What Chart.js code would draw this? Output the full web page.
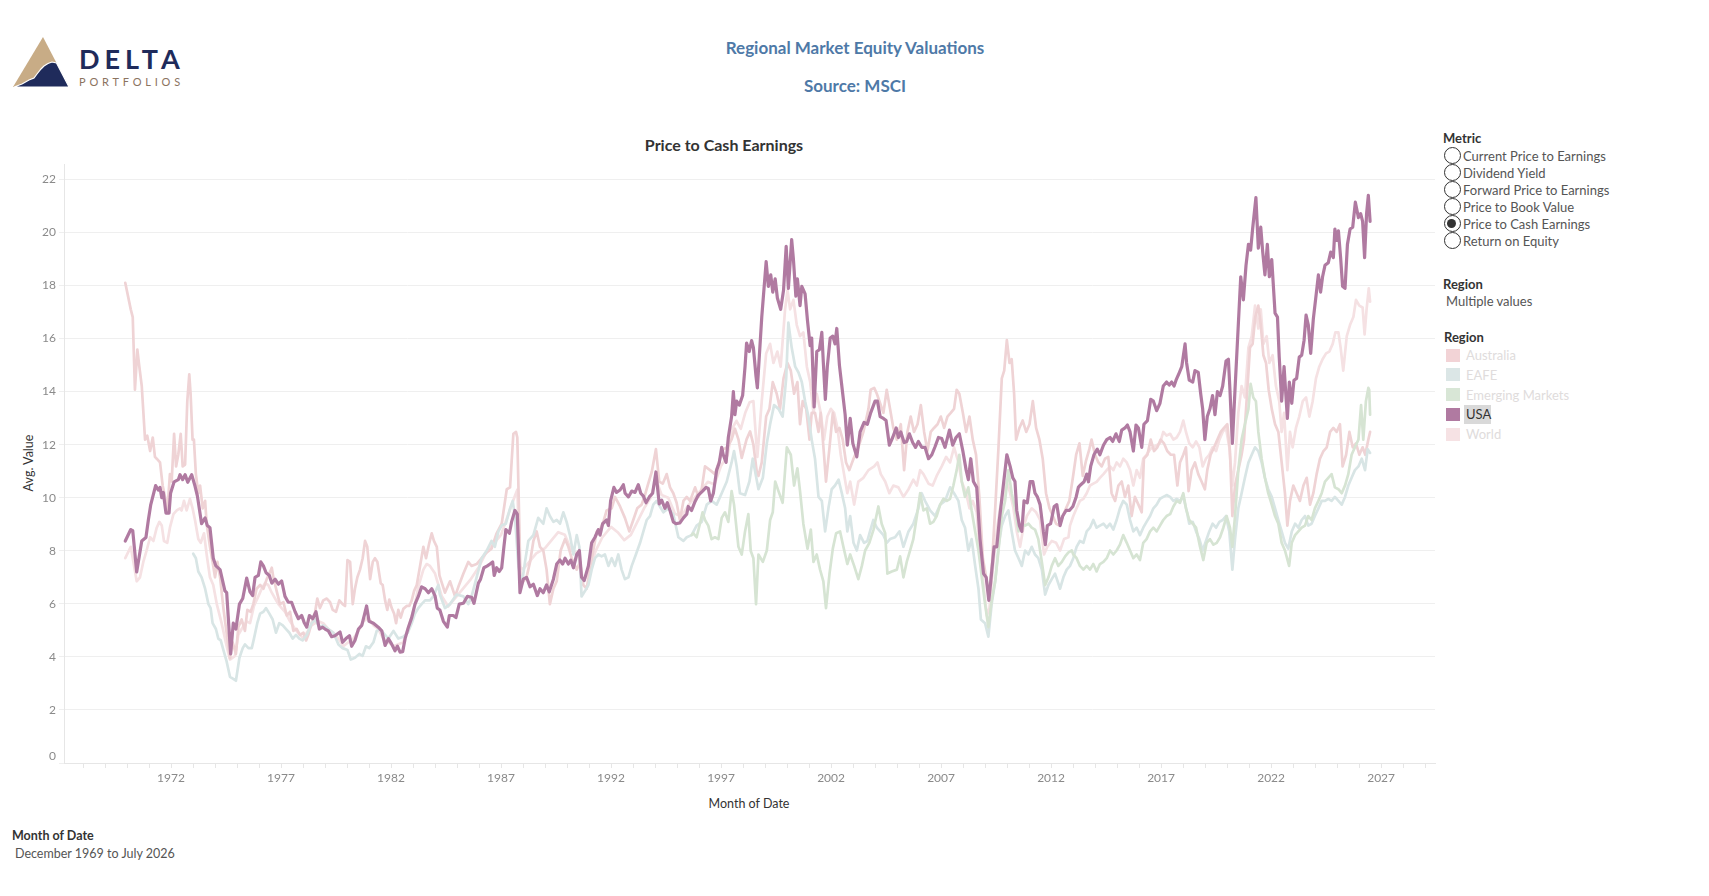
<!DOCTYPE html>
<html>
<head>
<meta charset="utf-8">
<script src="https://cdn.jsdelivr.net/npm/chart.js@4.4.1/dist/chart.umd.min.js"></script>
<style>
  html, body { margin:0; padding:0; background:#fff; }
  body { width:1709px; height:896px; position:relative; overflow:hidden; font-family: Lato, "Open Sans", sans-serif; }
  .abs { position:absolute; white-space:nowrap; }
  .c { transform: translate(-50%, -50%); }
  .lbl { transform: translateY(-50%); }
  #chart { position:absolute; left:0; top:0; }
  .radio { position:absolute; width:17px; height:17px; border:1.2px solid #333; border-radius:50%; box-sizing:border-box; background:transparent; }
  .radio.on::after { content:''; position:absolute; left:2.8px; top:2.8px; width:9px; height:9px; border-radius:50%; background:#333; }
  .sw { position:absolute; width:14px; height:13px; }
</style>
</head>
<body>
<svg class="abs" style="left:0;top:0" width="200" height="100">
  <polygon points="43,37 13,87 69,87" fill="#c8ac86"/>
  <polygon points="14,87 22,84 29,80 34,78 37,74 41,69 44,66 48,63.5 52,62 56.5,63 69,87" fill="#1f2b5b" stroke="#fff" stroke-width="1.2"/>
  <text x="79" y="69" font-family="Lato, sans-serif" font-weight="700" font-size="27" letter-spacing="5" fill="#1f2b5b">DELTA</text>
  <text x="79" y="86" font-family="Lato, sans-serif" font-weight="400" font-size="11" letter-spacing="3.8" fill="#8b735f">PORTFOLIOS</text>
</svg>

<div class="abs c" style="left:855px;top:47px;color:#4e79a7;font-weight:700;font-size:17px;">Regional Market Equity Valuations</div>
<div class="abs c" style="left:855px;top:85px;color:#4e79a7;font-weight:700;font-size:17px;">Source: MSCI</div>
<div class="abs c" style="left:724px;top:144px;color:#333;font-weight:700;font-size:16px;">Price to Cash Earnings</div>
<div class="abs c" style="left:28px;top:463px;color:#333;font-size:12.5px;transform:translate(-50%,-50%) rotate(-90deg);">Avg. Value</div>
<div class="abs c" style="left:749px;top:803px;color:#333;font-size:12.5px;">Month of Date</div>
<div class="abs lbl" style="left:12px;top:835px;color:#333;font-size:12.5px;font-weight:700;">Month of Date</div>
<div class="abs lbl" style="left:15px;top:853px;color:#555;font-size:12.5px;">December 1969 to July 2026</div>

<canvas id="chart" width="1440" height="830"></canvas>
<div id="yzero" class="abs" style="right:calc(1709px - 56px);top:755px;transform:translateY(-50%);color:#8a8a8a;font-size:12px;"></div>

<div id="legend"></div>

<script>
// ---------- data (decimal year, value) ----------
const xTickLabels = [1972, 1977, 1982, 1987, 1992, 1997, 2002, 2007, 2012, 2017, 2022, 2027];
const yTickValues = [0, 2, 4, 6, 8, 10, 12, 14, 16, 18, 20, 22];
const regions = ["Australia", "EAFE", "Emerging Markets", "USA", "World"];
const metrics = ["Current Price to Earnings", "Dividend Yield", "Forward Price to Earnings", "Price to Book Value", "Price to Cash Earnings", "Return on Equity"];

const usa = [
[1969.92,8.37],[1970.17,8.8],[1970.26,8.76],[1970.44,7.2],[1970.67,8.37],[1970.86,8.5],[1970.97,9.16],[1971.08,9.74],[1971.30,10.46],[1971.42,10.29],[1971.50,10.39],[1971.58,10.0],[1971.65,10.2],[1971.77,9.42],[1971.91,9.42],[1971.98,10.17],[1972.14,10.6],[1972.33,10.68],[1972.41,10.87],[1972.53,10.68],[1972.64,10.87],[1972.76,10.58],[1972.94,10.87],[1973.09,10.44],[1973.20,10.06],[1973.39,9.02],[1973.55,9.24],[1973.65,8.95],[1973.77,8.87],[1973.92,7.72],[1974.04,7.43],[1974.23,7.29],[1974.45,6.49],[1974.53,6.42],[1974.71,4.11],[1974.83,5.27],[1974.95,5.05],[1975.11,5.99],[1975.26,6.2],[1975.44,6.97],[1975.59,6.45],[1975.71,6.31],[1975.82,7.0],[1975.97,7.07],[1976.08,7.58],[1976.20,7.43],[1976.32,7.17],[1976.47,7.07],[1976.58,6.78],[1976.73,6.93],[1976.88,6.74],[1977.03,6.86],[1977.18,6.28],[1977.33,6.06],[1977.48,6.06],[1977.64,5.7],[1977.79,5.44],[1977.94,5.56],[1978.05,5.3],[1978.17,5.12],[1978.29,5.56],[1978.44,5.44],[1978.59,5.7],[1978.74,5.05],[1978.89,5.12],[1979.00,5.05],[1979.15,4.98],[1979.30,4.76],[1979.45,4.8],[1979.68,4.94],[1979.80,4.55],[1979.95,4.69],[1980.11,4.8],[1980.21,4.4],[1980.36,4.62],[1980.52,5.05],[1980.67,5.19],[1980.79,5.58],[1980.89,5.92],[1981.00,5.34],[1981.20,5.27],[1981.42,5.12],[1981.58,4.98],[1981.73,4.43],[1981.88,4.69],[1982.03,4.48],[1982.18,4.23],[1982.29,4.4],[1982.41,4.18],[1982.53,4.2],[1982.64,4.69],[1982.79,5.12],[1982.94,5.48],[1983.09,5.99],[1983.24,6.28],[1983.39,6.64],[1983.55,6.57],[1983.70,6.42],[1983.85,6.57],
[1984.0,6.3],[1984.10,5.84],[1984.22,5.77],[1984.38,5.34],[1984.56,5.12],[1984.65,5.56],[1984.83,5.56],[1984.95,5.48],[1985.10,5.99],[1985.29,6.02],[1985.47,6.28],[1985.66,6.25],[1985.77,6.02],[1985.97,6.78],[1986.07,6.93],[1986.22,7.36],[1986.38,7.43],[1986.50,7.5],[1986.62,7.58],[1986.69,7.07],[1986.80,7.36],[1986.92,7.22],[1987.03,7.36],[1987.13,8.15],[1987.22,8.8],[1987.38,8.66],[1987.48,9.09],[1987.63,9.52],[1987.74,9.38],[1987.86,6.42],[1988.01,6.93],[1988.16,7.0],[1988.32,6.64],[1988.47,6.74],[1988.65,6.31],[1988.77,6.57],[1988.92,6.42],[1989.07,6.71],[1989.19,6.45],[1989.38,6.93],[1989.53,7.5],[1989.68,7.65],[1989.80,7.5],[1989.91,7.72],[1990.06,7.5],[1990.17,7.65],[1990.29,7.36],[1990.44,7.86],[1990.56,8.01],[1990.66,7.0],[1990.78,6.88],[1990.97,7.43],[1991.12,8.3],[1991.27,8.51],[1991.42,8.8],[1991.50,8.59],[1991.62,9.02],[1991.80,9.16],[1991.88,8.95],[1991.98,9.88],[1992.13,10.39],[1992.25,10.2],[1992.41,10.29],[1992.56,10.49],[1992.64,10.17],[1992.79,10.03],[1992.94,10.25],[1993.09,10.2],[1993.24,10.49],[1993.35,10.17],[1993.47,10.06],[1993.59,9.81],[1993.74,10.03],[1993.89,10.17],[1994.04,10.97],[1994.19,9.77],[1994.30,9.91],[1994.45,9.6],[1994.56,9.81],[1994.68,9.52],[1994.83,9.09],[1994.95,9.02],[1995.13,9.05],[1995.29,9.24],[1995.44,9.38],[1995.51,9.67],[1995.66,9.52],[1995.82,9.86],[1995.97,10.1],[1996.16,10.25],[1996.32,10.39],[1996.42,10.35],[1996.53,9.88],[1996.65,10.17],[1996.80,11.04],[1996.92,11.33],[1997.03,11.9],[1997.10,11.62],[1997.23,11.33],[1997.33,12.27],[1997.48,13.06],[1997.56,14.0],[1997.63,13.13],[1997.71,13.64],[1997.83,13.49],[1997.98,13.85],[1998.09,14.94],[1998.16,15.83],[1998.28,15.51],[1998.39,15.92],[1998.47,15.66],[1998.59,14.57],[1998.65,14.14],
[1998.85,16.81],[1999.05,18.9],[1999.15,17.97],[1999.26,18.4],[1999.35,17.75],[1999.46,18.25],[1999.56,17.53],[1999.71,17.1],[1999.84,17.82],[1999.96,19.48],[2000.06,17.89],[2000.21,19.73],[2000.29,18.98],[2000.40,17.6],[2000.47,18.25],[2000.59,17.24],[2000.67,17.97],[2000.82,17.68],[2000.93,16.67],[2001.05,15.73],[2001.12,16.02],[2001.23,13.42],[2001.35,15.51],[2001.47,15.58],[2001.58,16.23],[2001.65,15.08],[2001.74,13.71],[2001.83,14.94],[2001.96,16.02],[2002.08,16.09],[2002.18,15.8],[2002.26,16.38],[2002.38,15.0],[2002.53,13.92],[2002.64,13.13],[2002.74,11.98],[2002.87,12.99],[2002.99,12.05],[2003.17,11.54],[2003.32,12.48],[2003.50,12.84],[2003.65,12.77],[2003.80,13.2],[2004.00,13.64],[2004.11,13.64],[2004.23,13.06],[2004.38,12.99],[2004.50,12.91],[2004.65,11.98],[2004.80,12.27],[2004.96,12.63],[2005.06,12.27],[2005.17,12.48],[2005.32,12.08],[2005.44,12.12],[2005.56,12.41],[2005.71,12.08],[2005.84,11.9],[2005.97,12.12],[2006.12,11.9],[2006.27,11.9],[2006.43,11.47],[2006.58,11.62],[2006.73,11.93],[2006.88,12.27],[2007.03,12.23],[2007.18,11.9],[2007.38,12.55],[2007.53,11.98],[2007.68,12.27],[2007.83,12.41],[2007.99,11.76],[2008.14,11.04],[2008.24,10.68],[2008.35,11.47],[2008.47,10.61],[2008.62,10.39],[2008.77,8.44],[2008.93,7.14],[2009.05,7.0],[2009.17,6.13],[2009.26,6.85],[2009.41,8.15],[2009.53,8.15],[2009.65,9.16],[2009.80,10.25],[2009.99,11.62],[2010.14,11.18],[2010.26,10.75],[2010.36,10.61],[2010.44,9.52],[2010.56,8.95],[2010.67,8.73],[2010.77,9.88],[2010.92,9.81],[2011.05,10.61],[2011.17,10.61],[2011.27,10.17],[2011.38,10.03],[2011.50,9.74],[2011.65,8.73],[2011.74,8.23],[2011.83,8.95],[2011.98,9.02],[2012.14,9.67],[2012.26,9.74],[2012.41,8.95],[2012.53,9.31],[2012.68,9.52],[2012.83,9.52],[2012.99,9.67],[2013.14,10.03],[2013.24,10.39],
[2013.31,10.46],[2013.50,10.6],[2013.62,10.89],[2013.70,10.6],[2013.80,11.18],[2013.95,11.62],[2014.10,11.83],[2014.22,11.62],[2014.38,11.98],[2014.53,12.19],[2014.68,12.27],[2014.80,12.12],[2014.95,12.41],[2015.10,12.12],[2015.21,12.55],[2015.36,12.63],[2015.47,12.74],[2015.59,12.48],[2015.74,11.76],[2015.86,12.74],[2015.97,12.63],[2016.12,11.9],[2016.22,12.77],[2016.38,12.91],[2016.53,13.71],[2016.65,13.64],[2016.80,13.28],[2016.95,13.56],[2017.10,14.21],[2017.25,14.36],[2017.37,14.25],[2017.48,14.36],[2017.59,14.21],[2017.68,14.43],[2017.83,14.72],[2017.94,14.94],[2018.09,15.8],[2018.16,15.08],[2018.28,14.43],[2018.44,14.36],[2018.54,14.79],[2018.69,14.72],[2018.80,13.92],[2018.89,13.35],[2018.99,12.19],[2019.10,13.06],[2019.22,13.35],[2019.34,13.85],[2019.45,13.13],[2019.56,14.0],[2019.68,13.85],[2019.80,14.21],[2019.95,15.15],[2020.06,15.22],[2020.13,14.07],[2020.24,12.05],[2020.36,14.07],[2020.51,16.52],[2020.62,18.33],[2020.74,17.46],[2020.86,18.76],[2020.97,19.55],[2021.07,19.33],[2021.16,20.13],[2021.31,21.31],[2021.42,19.41],[2021.53,20.2],[2021.62,19.26],[2021.72,18.4],[2021.83,19.55],[2021.92,18.33],[2022.03,18.98],[2022.18,16.96],[2022.29,16.81],[2022.37,15.3],[2022.48,13.64],[2022.59,14.94],[2022.74,12.99],[2022.83,14.36],[2022.94,13.56],[2023.04,14.43],[2023.16,14.5],[2023.28,15.3],[2023.39,15.37],[2023.50,15.94],[2023.59,16.88],[2023.69,16.52],[2023.80,15.44],[2023.92,16.74],[2024.04,17.6],[2024.15,18.4],[2024.25,17.75],[2024.34,18.33],[2024.45,18.76],[2024.60,18.86],[2024.71,19.26],[2024.83,19.05],[2024.90,20.13],[2024.98,19.7],[2025.06,20.06],[2025.16,19.05],[2025.25,17.97],[2025.36,17.89],[2025.47,19.55],[2025.59,20.13],[2025.71,20.2],[2025.83,21.14],[2025.97,20.56],[2026.07,20.71],[2026.16,20.42],[2026.25,19.05],[2026.34,20.71],[2026.42,21.4],[2026.50,20.42]
];

const australia = [
[1969.92,18.1],[1970.17,17.1],[1970.26,16.81],[1970.36,14.07],[1970.47,15.58],[1970.56,14.94],[1970.67,14.21],[1970.82,12.19],[1970.92,12.34],[1971.05,11.76],[1971.17,12.27],[1971.27,11.54],[1971.35,11.47],[1971.50,11.33],[1971.62,10.46],[1971.73,10.03],[1971.83,9.45],[1971.95,10.89],[1972.03,10.61],[1972.14,12.41],[1972.23,11.18],[1972.33,11.62],[1972.44,12.41],[1972.53,11.18],[1972.64,11.25],[1972.74,13.64],[1972.83,14.65],[1972.89,13.92],[1972.98,12.19],[1973.04,12.19],[1973.13,10.89],[1973.24,10.17],[1973.32,10.46],[1973.44,9.6],[1973.55,9.88],[1973.62,9.02],[1973.77,8.15],[1973.89,7.58],[1974.00,7.0],[1974.11,7.58],[1974.23,7.0],[1974.38,5.84],[1974.56,4.69],[1974.68,3.95],[1974.80,4.55],[1974.95,4.11],[1975.06,5.12],[1975.21,5.41],[1975.36,4.98],[1975.47,5.77],[1975.62,5.7],[1975.74,5.99],[1975.89,6.57],[1976.05,6.71],[1976.20,6.57],[1976.35,6.93],[1976.47,7.14],[1976.58,7.36],[1976.65,7.0],[1976.80,6.49],[1976.95,5.99],[1977.11,6.06],[1977.26,5.56],[1977.41,5.7],[1977.56,4.98],[1977.71,5.05],[1977.86,4.83],[1978.02,4.91],[1978.14,4.62],[1978.24,4.83],[1978.39,5.27],[1978.55,5.7],[1978.65,6.2],[1978.77,5.84],[1978.92,6.13],[1979.08,6.2],[1979.23,6.06],[1979.35,5.77],[1979.50,5.7],[1979.65,6.13],[1979.80,5.99],[1979.91,5.92],[1980.02,7.65],[1980.14,7.58],[1980.26,5.99],[1980.36,6.57],[1980.47,7.0],[1980.59,7.29],[1980.71,7.72],[1980.82,8.37],[1980.92,8.15],[1981.05,6.93],[1981.17,7.58],[1981.27,7.72],[1981.38,7.58],[1981.53,6.78],[1981.62,6.71],[1981.73,6.13],[1981.83,5.77],[1981.92,6.16],[1982.03,5.84],[1982.14,5.63],[1982.23,5.27],[1982.33,5.77],[1982.44,5.48],[1982.56,5.81],[1982.71,5.92],[1982.83,5.92],[1982.94,6.13],[1983.05,6.49],[1983.17,6.71],[1983.32,7.43],[1983.47,8.15],[1983.59,7.72],[1983.74,8.3],[1983.85,8.66],[1983.95,8.37],[1984.08,8.15],[1984.20,7.07],
[1984.45,6.42],[1984.68,6.85],[1984.91,6.28],[1985.06,6.64],[1985.29,7.14],[1985.51,7.58],[1985.66,7.43],[1985.89,7.5],[1986.12,7.72],[1986.35,7.94],[1986.57,8.08],[1986.80,8.66],[1987.03,9.02],[1987.26,10.32],[1987.41,10.39],[1987.56,12.41],[1987.68,12.48],[1987.74,12.27],[1987.83,9.0],[1987.89,6.71],[1988.16,7.0],[1988.32,7.58],[1988.47,8.37],[1988.62,8.73],[1988.77,8.15],[1988.92,8.01],[1989.07,7.29],[1989.22,5.99],[1989.38,6.57],[1989.53,6.85],[1989.71,8.01],[1989.91,8.44],[1990.06,8.15],[1990.21,7.72],[1990.44,7.29],[1990.59,7.58],[1990.74,6.71],[1990.89,6.57],[1991.04,7.29],[1991.19,8.01],[1991.35,8.73],[1991.50,8.8],[1991.65,9.09],[1991.80,9.52],[1992.03,9.6],[1992.18,10.03],[1992.41,9.67],[1992.63,9.24],[1992.83,8.73],[1993.01,9.16],[1993.19,9.6],[1993.39,9.74],[1993.54,10.1],[1993.69,10.53],[1993.85,10.97],[1994.04,11.83],[1994.19,10.61],[1994.35,10.53],[1994.53,10.89],[1994.68,10.39],[1994.83,10.17],[1994.98,9.81],[1995.13,9.16],[1995.29,9.88],[1995.44,10.03],[1995.59,9.88],[1995.82,10.39],[1995.97,10.03],[1996.12,10.32],[1996.27,11.18],[1996.50,11.04],[1996.72,10.89],[1996.95,11.47],[1997.10,11.83],[1997.29,11.9],[1997.48,12.2],[1997.63,12.6],[1997.79,12.2],[1997.94,11.5],[1998.16,12.2],[1998.32,12.5],[1998.47,12.0],[1998.62,11.0],[1998.70,10.82],
[1998.85,11.33],[1999.05,13.06],[1999.20,13.35],[1999.35,14.36],[1999.53,13.92],[1999.68,13.35],[1999.84,14.5],[2000.02,15.08],[2000.17,14.79],[2000.32,13.92],[2000.47,14.36],[2000.59,12.77],[2000.71,13.64],[2000.87,13.35],[2001.02,12.19],[2001.12,13.2],[2001.27,13.2],[2001.43,12.48],[2001.53,13.2],[2001.68,11.62],[2001.77,10.61],[2001.93,11.9],[2002.08,13.2],[2002.23,12.48],[2002.38,12.63],[2002.53,12.19],[2002.68,11.33],[2002.83,11.04],[2003.02,11.47],[2003.24,11.9],[2003.47,12.48],[2003.70,13.35],[2003.80,14.07],[2003.96,14.14],[2004.08,13.92],[2004.26,13.49],[2004.38,13.2],[2004.53,14.07],[2004.68,13.35],[2004.83,12.63],[2004.99,12.19],[2005.17,12.77],[2005.32,11.04],[2005.47,12.48],[2005.62,13.06],[2005.77,12.48],[2005.93,12.77],[2006.08,13.49],[2006.23,12.48],[2006.38,11.76],[2006.53,12.48],[2006.68,12.63],[2006.84,12.77],[2006.99,13.06],[2007.14,12.63],[2007.29,13.06],[2007.44,13.2],[2007.59,13.35],[2007.71,14.07],[2007.83,13.92],[2007.99,13.2],[2008.14,12.48],[2008.29,13.06],[2008.44,12.19],[2008.59,11.62],[2008.74,10.03],[2008.90,7.72],[2009.05,7.0],[2009.17,6.28],[2009.32,7.58],[2009.47,9.74],[2009.61,11.9],[2009.76,14.5],[2009.87,14.79],[2009.99,15.94],[2010.11,15.08],[2010.21,15.22],[2010.32,13.92],[2010.41,12.19],[2010.56,12.63],[2010.71,12.91],[2010.87,12.48],[2011.02,12.77],[2011.17,13.64],[2011.32,12.63],[2011.47,12.19],[2011.62,11.47],[2011.77,10.17],[2011.93,9.6],[2012.08,9.31],[2012.23,9.02],[2012.38,8.95],[2012.53,9.31],[2012.68,9.6],[2012.83,9.88],[2012.99,10.75],[2013.14,11.62],[2013.29,12.05],
[2013.44,10.82],[2013.59,11.4],[2013.74,11.83],[2013.84,12.19],[2014.00,11.62],[2014.15,11.33],[2014.30,11.18],[2014.45,11.47],[2014.60,11.54],[2014.75,10.17],[2014.91,9.88],[2015.06,10.46],[2015.21,10.61],[2015.36,10.03],[2015.51,10.46],[2015.66,9.31],[2015.81,10.03],[2015.97,9.74],[2016.12,9.45],[2016.22,11.47],[2016.38,11.62],[2016.53,12.19],[2016.68,11.76],[2016.83,11.9],[2016.98,12.19],[2017.13,12.05],[2017.28,11.76],[2017.44,11.62],[2017.59,11.62],[2017.74,10.46],[2017.86,11.33],[2018.01,11.62],[2018.13,11.9],[2018.25,10.25],[2018.39,11.04],[2018.54,11.33],[2018.69,10.89],[2018.84,10.61],[2018.99,10.32],[2019.10,11.04],[2019.25,11.62],[2019.41,11.9],[2019.56,12.19],[2019.71,12.48],[2019.86,12.63],[2020.01,12.77],[2020.13,11.76],[2020.24,9.31],[2020.36,10.46],[2020.51,11.04],[2020.66,11.62],[2020.77,12.19],[2020.92,14.07],[2021.04,15.66],[2021.16,15.8],[2021.28,16.81],[2021.42,17.24],[2021.53,16.52],[2021.65,15.37],[2021.77,15.08],[2021.89,14.07],[2022.03,13.35],[2022.18,12.77],[2022.33,12.48],[2022.48,11.33],[2022.63,10.17],[2022.74,8.95],[2022.86,9.88],[2023.01,10.46],[2023.16,10.17],[2023.31,9.88],[2023.47,10.46],[2023.62,10.75],[2023.77,9.74],[2023.92,10.17],[2024.07,10.89],[2024.22,11.47],[2024.38,11.76],[2024.53,11.9],[2024.68,12.48],[2024.83,12.63],[2024.98,12.48],[2025.13,12.77],[2025.25,11.18],[2025.41,11.62],[2025.56,12.48],[2025.71,11.9],[2025.86,12.05],[2026.01,11.62],[2026.16,11.9],[2026.28,11.62],[2026.42,12.19],[2026.50,12.48]
];

const eafe = [
[1973.01,7.89],[1973.13,7.72],[1973.24,7.22],[1973.39,7.0],[1973.55,6.57],[1973.70,5.99],[1973.80,5.84],[1973.89,5.27],[1974.04,5.05],[1974.15,4.69],[1974.26,4.62],[1974.38,4.26],[1974.53,3.82],[1974.68,3.25],[1974.83,3.17],[1974.95,3.1],[1975.11,3.97],[1975.26,4.33],[1975.36,4.47],[1975.52,4.33],[1975.67,4.33],[1975.77,4.69],[1975.92,5.27],[1976.05,5.63],[1976.20,5.7],[1976.32,5.84],[1976.47,5.63],[1976.62,5.41],[1976.77,4.91],[1976.92,5.27],[1977.08,5.19],[1977.23,5.05],[1977.38,4.91],[1977.53,4.69],[1977.68,4.83],[1977.83,4.69],[1977.98,4.62],[1978.17,4.83],[1978.39,5.27],[1978.55,5.41],[1978.74,5.12],[1978.92,5.19],[1979.15,5.05],[1979.38,4.91],[1979.61,4.47],[1979.80,4.33],[1980.02,4.26],[1980.17,3.9],[1980.36,3.97],[1980.56,4.11],[1980.71,4.04],[1980.86,4.4],[1981.01,4.33],[1981.20,4.55],[1981.35,4.98],[1981.50,5.05],[1981.73,4.83],[1981.88,4.69],[1982.11,4.98],[1982.33,4.69],[1982.56,4.76],[1982.76,4.91],[1982.94,5.27],[1983.09,5.63],[1983.24,5.84],[1983.39,5.99],[1983.55,6.13],[1983.77,6.13],[1983.92,6.28],[1984.15,6.71],
[1984.22,6.35],[1984.45,5.84],[1984.68,5.99],[1984.98,6.35],[1985.29,6.28],[1985.51,5.99],[1985.66,6.28],[1985.89,7.0],[1986.12,7.72],[1986.35,8.01],[1986.57,8.37],[1986.72,8.15],[1986.88,8.73],[1987.03,8.95],[1987.22,9.02],[1987.41,9.6],[1987.53,9.88],[1987.63,9.31],[1987.79,7.43],[1987.94,6.71],[1988.09,7.58],[1988.24,8.37],[1988.47,8.59],[1988.69,9.24],[1988.92,9.02],[1989.07,9.6],[1989.22,9.31],[1989.38,9.09],[1989.53,9.16],[1989.68,9.02],[1989.83,9.45],[1989.98,9.09],[1990.13,8.59],[1990.29,7.86],[1990.44,8.59],[1990.56,8.15],[1990.66,6.28],[1990.82,6.49],[1990.97,6.71],[1991.12,7.29],[1991.27,7.72],[1991.42,7.86],[1991.57,7.79],[1991.72,7.86],[1991.88,7.43],[1992.03,7.72],[1992.18,7.43],[1992.33,7.86],[1992.48,7.29],[1992.63,6.93],[1992.79,7.0],[1992.94,7.43],[1993.13,7.86],[1993.32,8.3],[1993.47,8.73],[1993.62,9.16],[1993.77,9.31],[1993.92,9.74],[1994.07,9.88],[1994.22,9.67],[1994.38,9.45],[1994.60,9.6],[1994.83,9.38],[1995.06,8.51],[1995.29,8.37],[1995.44,8.51],[1995.66,8.59],[1995.89,8.95],[1996.12,9.09],[1996.35,9.74],[1996.57,9.88],[1996.80,9.74],[1997.03,10.17],[1997.26,10.61],[1997.48,11.33],[1997.59,11.76],[1997.71,11.18],[1997.86,10.17],[1998.09,10.1],[1998.29,10.61],[1998.44,11.47],[1998.70,10.32],
[1998.90,10.75],[1999.08,12.05],[1999.23,12.77],[1999.41,13.49],[1999.61,13.35],[1999.80,13.06],[1999.96,14.5],[2000.06,16.6],[2000.21,15.66],[2000.37,14.94],[2000.52,14.72],[2000.67,14.36],[2000.82,13.64],[2000.97,13.06],[2001.12,12.19],[2001.27,11.47],[2001.43,10.03],[2001.58,9.88],[2001.73,8.73],[2001.88,9.6],[2002.03,10.32],[2002.18,10.46],[2002.34,10.68],[2002.49,10.17],[2002.64,9.6],[2002.74,8.73],[2002.87,9.31],[2003.02,8.3],[2003.17,8.01],[2003.32,8.59],[2003.50,8.3],[2003.65,8.37],[2003.77,8.73],[2003.92,9.16],[2004.08,8.87],[2004.23,8.73],[2004.38,8.59],[2004.53,8.3],[2004.68,8.44],[2004.91,8.51],[2005.11,8.73],[2005.29,8.15],[2005.52,8.73],[2005.74,9.02],[2005.97,9.6],[2006.12,10.17],[2006.27,9.88],[2006.50,9.52],[2006.73,9.31],[2006.96,9.74],[2007.18,9.88],[2007.41,10.39],[2007.59,10.17],[2007.79,9.88],[2007.94,9.16],[2008.09,8.87],[2008.24,8.01],[2008.39,8.44],[2008.55,7.43],[2008.70,6.57],[2008.81,5.41],[2009.00,5.27],[2009.15,4.76],[2009.30,5.99],[2009.46,6.85],[2009.61,8.15],[2009.76,8.95],[2009.91,9.31],[2010.06,9.52],[2010.21,8.73],[2010.36,8.01],[2010.52,7.72],[2010.67,7.43],[2010.82,8.01],[2010.97,7.86],[2011.12,8.15],[2011.27,7.86],[2011.42,7.72],[2011.58,7.29],[2011.73,6.35],[2011.88,6.71],[2012.03,6.93],[2012.18,7.14],[2012.41,6.57],[2012.56,7.0],[2012.71,7.29],[2012.86,7.43],
[2013.01,7.72],[2013.16,8.15],[2013.31,8.37],[2013.47,8.3],[2013.62,8.73],[2013.77,8.87],[2013.92,9.16],[2014.07,8.87],[2014.22,8.95],[2014.38,9.02],[2014.53,8.87],[2014.68,9.02],[2014.83,8.8],[2014.98,9.16],[2015.13,9.6],[2015.28,9.88],[2015.44,9.74],[2015.59,9.16],[2015.74,8.73],[2015.89,8.87],[2016.04,8.59],[2016.19,8.87],[2016.34,9.09],[2016.50,9.31],[2016.65,9.6],[2016.80,9.74],[2016.95,9.96],[2017.10,10.03],[2017.25,10.1],[2017.41,10.03],[2017.56,9.88],[2017.71,9.96],[2017.86,9.88],[2018.01,10.03],[2018.16,9.52],[2018.28,9.02],[2018.44,9.09],[2018.59,8.73],[2018.74,8.44],[2018.89,8.01],[2019.04,8.37],[2019.19,8.73],[2019.34,9.02],[2019.50,8.87],[2019.65,9.09],[2019.80,9.16],[2019.95,9.31],[2020.10,8.73],[2020.24,7.29],[2020.36,8.44],[2020.51,9.6],[2020.66,10.17],[2020.81,10.75],[2020.97,11.33],[2021.12,11.62],[2021.27,11.9],[2021.42,11.76],[2021.57,11.33],[2021.72,10.75],[2021.87,10.32],[2022.03,10.03],[2022.18,9.6],[2022.33,9.16],[2022.48,8.73],[2022.63,8.3],[2022.78,8.08],[2022.94,8.73],[2023.09,9.02],[2023.24,8.87],[2023.39,9.16],[2023.54,9.31],[2023.69,8.95],[2023.84,9.02],[2023.99,9.31],[2024.15,9.6],[2024.30,9.88],[2024.45,9.88],[2024.60,9.96],[2024.75,9.88],[2024.90,10.03],[2025.06,9.88],[2025.21,9.74],[2025.36,10.03],[2025.51,10.46],[2025.66,10.75],[2025.81,11.04],[2025.97,11.18],[2026.12,11.47],[2026.27,11.04],[2026.39,11.83],[2026.50,11.69]
];

const emergingMarkets = [
[1995.66,8.59],[1995.74,8.66],[1995.89,8.51],[1996.04,9.02],[1996.16,9.45],[1996.27,9.16],[1996.42,8.95],[1996.57,8.44],[1996.72,8.51],[1996.88,8.44],[1997.03,9.24],[1997.18,9.45],[1997.33,9.09],[1997.48,10.25],[1997.59,9.74],[1997.79,8.15],[1997.94,7.86],[1998.09,8.73],[1998.24,9.38],[1998.35,7.99],[1998.47,7.72],[1998.59,5.99],[1998.70,7.86],
[1998.90,7.58],[1999.08,8.01],[1999.23,9.16],[1999.35,9.45],[1999.46,10.61],[1999.61,10.25],[1999.80,9.81],[1999.99,11.9],[2000.17,11.62],[2000.32,10.46],[2000.47,11.11],[2000.59,10.25],[2000.74,9.02],[2000.93,8.08],[2001.08,8.8],[2001.20,7.58],[2001.35,7.86],[2001.50,7.29],[2001.65,6.85],[2001.77,5.84],[2001.93,7.14],[2002.08,8.08],[2002.23,8.66],[2002.41,8.73],[2002.56,8.15],[2002.74,7.5],[2002.87,7.86],[2003.05,7.43],[2003.24,6.93],[2003.40,7.43],[2003.55,8.01],[2003.74,8.3],[2003.93,8.8],[2004.15,9.67],[2004.30,9.02],[2004.46,8.66],[2004.56,7.14],[2004.76,7.22],[2004.99,7.29],[2005.14,7.79],[2005.29,7.0],[2005.44,7.58],[2005.59,8.01],[2005.74,8.44],[2005.90,9.31],[2006.05,10.17],[2006.20,9.52],[2006.35,9.6],[2006.50,9.02],[2006.65,9.09],[2006.80,9.31],[2006.96,9.74],[2007.11,9.96],[2007.26,9.88],[2007.41,9.96],[2007.56,10.46],[2007.71,11.04],[2007.83,11.62],[2007.94,10.61],[2008.09,10.03],[2008.24,10.39],[2008.39,9.52],[2008.55,8.73],[2008.70,8.01],[2008.85,7.0],[2009.00,5.99],[2009.15,5.12],[2009.30,6.13],[2009.46,6.85],[2009.61,8.01],[2009.76,9.31],[2009.91,9.88],[2010.06,11.04],[2010.21,10.17],[2010.36,9.6],[2010.52,8.73],[2010.67,9.02],[2010.82,8.95],[2010.97,9.02],[2011.12,8.87],[2011.27,8.8],[2011.42,8.44],[2011.58,7.58],[2011.73,6.71],[2011.88,7.0],[2012.03,7.43],[2012.18,7.72],[2012.33,7.43],[2012.49,7.58],[2012.64,7.79],[2012.79,7.94],[2012.94,8.01],
[2013.01,7.86],[2013.16,7.72],[2013.31,7.43],[2013.47,7.29],[2013.62,7.43],[2013.77,7.29],[2013.92,7.5],[2014.07,7.22],[2014.22,7.5],[2014.38,7.58],[2014.53,7.72],[2014.68,8.01],[2014.83,7.86],[2014.98,8.01],[2015.13,8.23],[2015.28,8.59],[2015.44,8.3],[2015.59,8.01],[2015.74,7.72],[2015.89,7.86],[2016.04,7.65],[2016.19,8.3],[2016.34,8.44],[2016.50,8.73],[2016.65,8.87],[2016.80,8.73],[2016.95,8.95],[2017.10,9.16],[2017.25,9.31],[2017.41,9.38],[2017.56,9.67],[2017.71,9.88],[2017.86,9.81],[2018.01,10.17],[2018.13,9.6],[2018.28,9.16],[2018.44,9.02],[2018.59,8.87],[2018.77,8.15],[2018.92,7.65],[2019.07,8.3],[2019.22,8.44],[2019.38,8.23],[2019.53,8.3],[2019.68,8.51],[2019.83,8.87],[2019.98,9.31],[2020.13,8.87],[2020.24,8.15],[2020.36,9.31],[2020.51,11.04],[2020.66,12.19],[2020.81,12.77],[2020.97,13.35],[2021.07,14.29],[2021.19,13.78],[2021.31,13.64],[2021.42,12.48],[2021.57,11.47],[2021.72,10.75],[2021.87,10.17],[2022.03,9.74],[2022.18,9.31],[2022.33,9.02],[2022.48,8.3],[2022.63,8.01],[2022.82,7.43],[2022.94,8.3],[2023.09,8.59],[2023.24,8.73],[2023.39,8.87],[2023.54,8.95],[2023.69,9.31],[2023.84,9.16],[2023.99,9.6],[2024.15,9.88],[2024.30,10.17],[2024.45,10.61],[2024.60,10.75],[2024.75,10.89],[2024.90,10.39],[2025.06,10.32],[2025.21,10.17],[2025.36,10.46],[2025.51,10.89],[2025.66,11.62],[2025.81,11.9],[2025.97,12.19],[2026.09,13.49],[2026.19,12.19],[2026.31,13.64],[2026.42,14.14],[2026.46,14.07],[2026.50,13.13]
];

const world = [
[1969.92,7.72],[1970.17,8.15],[1970.29,7.58],[1970.44,6.85],[1970.59,7.0],[1970.74,7.58],[1970.89,8.01],[1971.05,8.51],[1971.20,8.37],[1971.35,8.87],[1971.47,9.09],[1971.58,8.95],[1971.68,8.37],[1971.83,8.3],[1971.95,8.87],[1972.11,9.38],[1972.26,9.52],[1972.41,9.6],[1972.48,9.52],[1972.59,9.88],[1972.71,9.52],[1972.86,9.96],[1972.98,9.6],[1973.09,9.16],[1973.24,8.44],[1973.35,8.3],[1973.50,8.66],[1973.62,7.86],[1973.77,7.0],[1973.92,6.71],[1974.08,5.99],[1974.30,5.27],[1974.53,4.4],[1974.68,3.9],[1974.91,4.04],[1975.06,4.83],[1975.21,5.05],[1975.44,5.34],[1975.59,5.27],[1975.77,5.92],[1975.97,6.28],[1976.12,6.57],[1976.27,6.78],[1976.42,6.71],[1976.58,6.42],[1976.73,6.2],[1976.88,5.99],[1977.03,5.84],[1977.18,5.7],[1977.41,5.34],[1977.64,5.05],[1977.86,4.83],[1978.02,4.69],[1978.17,4.91],[1978.39,5.19],[1978.55,5.27],[1978.70,5.34],[1978.92,5.27],[1979.15,5.05],[1979.38,4.91],[1979.61,4.69],[1979.83,4.4],[1980.06,4.55],[1980.29,4.69],[1980.52,4.98],[1980.74,5.34],[1980.97,5.48],[1981.20,5.19],[1981.42,5.05],[1981.65,4.69],[1981.88,4.55],[1982.11,4.4],[1982.33,4.48],[1982.56,4.55],[1982.79,5.12],[1982.94,5.55],[1983.09,5.99],[1983.24,6.64],[1983.47,7.29],[1983.62,7.5],[1983.77,7.43],[1984.00,7.14],
[1984.3,6.3],[1984.6,5.9],[1985.0,6.3],[1985.3,6.6],[1985.6,6.9],[1986.0,7.4],[1986.3,7.9],[1986.6,8.2],[1987.0,8.6],[1987.3,9.3],[1987.6,10.0],[1987.74,10.3],[1987.86,7.4],[1988.0,7.3],[1988.3,7.6],[1988.6,7.9],[1989.0,8.1],[1989.3,8.4],[1989.6,8.7],[1989.9,8.6],[1990.2,8.0],[1990.5,7.9],[1990.7,6.8],[1991.0,7.2],[1991.3,8.0],[1991.6,8.5],[1992.0,8.9],[1992.3,8.7],[1992.6,8.4],[1992.9,8.6],[1993.2,9.1],[1993.5,9.6],[1993.8,10.0],[1994.04,10.7],[1994.3,10.1],[1994.6,10.0],[1994.9,9.4],[1995.2,9.3],[1995.5,9.7],[1995.8,10.0],[1996.1,10.3],[1996.4,10.6],[1996.7,10.5],[1997.0,11.2],[1997.3,11.6],[1997.5,12.6],[1997.7,12.9],[1997.9,12.6],[1998.1,13.2],[1998.3,13.6],[1998.47,13.64],
[1998.65,11.54],[1998.85,13.64],[1999.05,15.44],[1999.23,15.8],[1999.38,15.08],[1999.56,15.51],[1999.71,14.94],[1999.91,17.1],[2000.02,17.82],[2000.14,17.1],[2000.29,17.46],[2000.44,16.52],[2000.59,16.09],[2000.74,16.23],[2000.90,14.94],[2001.05,14.36],[2001.20,13.2],[2001.35,13.92],[2001.53,13.2],[2001.68,12.19],[2001.83,13.06],[2001.99,13.35],[2002.14,13.2],[2002.29,12.63],[2002.44,11.62],[2002.59,10.89],[2002.74,10.17],[2002.87,10.61],[2003.05,9.74],[2003.24,10.61],[2003.47,10.75],[2003.70,11.04],[2003.96,11.18],[2004.11,11.33],[2004.26,10.89],[2004.46,10.61],[2004.65,10.17],[2004.83,10.46],[2005.06,10.39],[2005.29,10.03],[2005.52,10.32],[2005.74,10.68],[2005.90,10.46],[2006.05,11.04],[2006.20,10.89],[2006.43,10.53],[2006.62,10.46],[2006.80,10.82],[2007.03,11.18],[2007.23,11.54],[2007.41,11.33],[2007.59,11.9],[2007.79,11.33],[2007.94,10.61],[2008.14,10.17],[2008.29,9.6],[2008.44,9.88],[2008.62,9.45],[2008.77,7.86],[2008.93,6.71],[2009.08,5.56],[2009.20,5.84],[2009.35,7.29],[2009.53,8.73],[2009.68,9.6],[2009.84,10.03],[2009.99,10.61],[2010.14,10.17],[2010.29,9.6],[2010.44,8.73],[2010.59,8.15],[2010.74,8.87],[2010.90,9.31],[2011.12,9.6],[2011.32,9.45],[2011.50,9.16],[2011.68,7.86],[2011.83,8.15],[2012.03,8.37],[2012.23,8.3],[2012.41,8.01],[2012.59,8.44],[2012.79,8.51],
[2012.86,8.95],[2013.01,9.31],[2013.16,9.6],[2013.31,9.88],[2013.47,9.96],[2013.62,10.17],[2013.77,10.46],[2013.92,10.53],[2014.07,10.6],[2014.22,10.75],[2014.38,10.89],[2014.53,11.04],[2014.68,11.18],[2014.83,11.04],[2014.98,11.33],[2015.13,11.18],[2015.28,11.47],[2015.44,11.33],[2015.59,11.04],[2015.74,10.46],[2015.89,11.04],[2016.04,10.75],[2016.19,11.47],[2016.34,11.62],[2016.50,11.83],[2016.65,11.9],[2016.80,11.98],[2016.95,12.05],[2017.10,12.48],[2017.25,12.34],[2017.41,12.41],[2017.56,12.19],[2017.71,12.27],[2017.86,12.48],[2018.01,12.91],[2018.13,12.48],[2018.28,12.05],[2018.44,11.9],[2018.59,12.12],[2018.74,11.9],[2018.89,11.18],[2019.04,11.47],[2019.19,11.62],[2019.34,11.9],[2019.50,11.76],[2019.65,12.19],[2019.80,12.48],[2019.95,12.63],[2020.10,11.9],[2020.24,10.46],[2020.36,11.33],[2020.51,13.2],[2020.66,14.21],[2020.81,13.78],[2020.97,15.66],[2021.12,16.09],[2021.27,17.24],[2021.42,16.38],[2021.53,17.1],[2021.65,15.8],[2021.80,16.09],[2021.92,15.08],[2022.07,15.37],[2022.22,14.21],[2022.37,13.64],[2022.48,12.48],[2022.59,13.2],[2022.74,11.04],[2022.86,12.48],[2022.98,11.9],[2023.13,12.63],[2023.28,13.06],[2023.44,13.64],[2023.59,13.78],[2023.74,13.06],[2023.89,13.64],[2024.04,14.5],[2024.19,14.94],[2024.34,15.22],[2024.50,15.44],[2024.65,15.51],[2024.80,15.8],[2024.92,16.23],[2025.06,16.23],[2025.16,15.66],[2025.28,14.79],[2025.44,16.09],[2025.59,16.52],[2025.74,16.81],[2025.86,17.46],[2026.01,17.24],[2026.16,17.17],[2026.25,16.16],[2026.34,17.1],[2026.44,17.89],[2026.50,17.39]
];

// ---------- styling ----------
const FONT = 'Lato, "Open Sans", sans-serif';
const lineColors = { "Australia":"#efd3d5", "EAFE":"#d8e5e5", "Emerging Markets":"#d6e4d3", "USA":"#b07aa1", "World":"#f5e1e3" };
const swatchColors = { "Australia":"#f2d3d6", "EAFE":"#dbe6e6", "Emerging Markets":"#d8e6d6", "USA":"#b07aa1", "World":"#f6e2e4" };
const seriesData = { "Australia":australia, "EAFE":eafe, "Emerging Markets":emergingMarkets, "USA":usa, "World":world };
const drawOrder = { "Australia":3, "EAFE":2, "Emerging Markets":1, "USA":0, "World":4 };

const X_MIN = 1967.136, X_MAX = 2029.45, Y_MAX = 22.58;

const datasets = regions.map(r => ({
  label: r,
  data: seriesData[r].map(p => ({ x: p[0], y: p[1] })),
  borderColor: lineColors[r],
  borderWidth: r === "USA" ? 3.2 : 2.7,
  pointRadius: 0,
  tension: 0,
  fill: false,
  order: drawOrder[r],
  borderJoinStyle: 'round',
  borderCapStyle: 'round'
}));

new Chart(document.getElementById('chart'), {
  type: 'line',
  data: { datasets },
  options: {
    responsive: false,
    animation: false,
    events: [],
    layout: { padding: { top: 164, right: 5, left: 0, bottom: 0 } },
    plugins: { legend: { display: false }, tooltip: { enabled: false }, title: { display: false } },
    scales: {
      x: {
        type: 'linear', min: X_MIN, max: X_MAX,
        afterFit(s) { s.height = 67; },
        grid: { display: true, drawOnChartArea: false, drawTicks: true, tickLength: 5, color: '#e6e6e6' },
        border: { display: true, color: '#e6e6e6' },
        ticks: {
          stepSize: 1, includeBounds: false, autoSkip: false, maxRotation: 0, minRotation: 0, padding: 3,
          color: '#8a8a8a', font: { family: FONT, size: 12 },
          callback: (v) => { const y = Math.round(v); return xTickLabels.includes(y) ? String(y) : ''; }
        }
      },
      y: {
        min: 0, max: Y_MAX,
        afterFit(s) { s.width = 64; },
        grid: { color: '#efefef', tickLength: 5, lineWidth: 1 },
        border: { display: true, color: '#e6e6e6' },
        ticks: {
          stepSize: 2, includeBounds: false, padding: 3,
          color: '#8a8a8a', font: { family: FONT, size: 12 },
          // the "0" label sits just above the axis line (drawn as HTML below)
          callback: (v) => { const t = Math.round(v); return (t !== 0 && yTickValues.includes(t)) ? String(t) : ''; }
        }
      }
    }
  }
});
document.getElementById('yzero').textContent = String(yTickValues[0]);

// ---------- legend / filters (HTML) ----------
const lg = document.getElementById('legend');
function add(html) { lg.insertAdjacentHTML('beforeend', html); }
add('<div class="abs lbl" style="left:1443px;top:138px;font-size:13px;font-weight:700;color:#333;">Metric</div>');
metrics.forEach((m, i) => {
  const cy = 155.5 + i * 17;
  const on = m === "Price to Cash Earnings";
  add(`<div class="radio${on ? ' on' : ''}" style="left:${1452 - 8.5}px;top:${cy - 8.5}px;"></div>`);
  add(`<div class="abs lbl" style="left:1463px;top:${cy}px;font-size:13px;color:#555;">${m}</div>`);
});
add('<div class="abs lbl" style="left:1443px;top:284px;font-size:13px;font-weight:700;color:#333;">Region</div>');
add('<div class="abs lbl" style="left:1446px;top:301px;font-size:13px;color:#555;">Multiple values</div>');
add('<div class="abs lbl" style="left:1444px;top:337px;font-size:13px;font-weight:700;color:#333;">Region</div>');
regions.forEach((r, i) => {
  const cy = 355 + i * 19.8;
  const active = r === "USA";
  add(`<div class="sw" style="left:1446px;top:${cy - 6.5}px;background:${swatchColors[r]};"></div>`);
  if (active) add(`<div class="abs" style="left:1464px;top:${cy - 9.5}px;width:27px;height:19px;background:#d9d9d9;"></div>`);
  add(`<div class="abs lbl" style="left:1466px;top:${cy}px;font-size:13px;color:${active ? '#333' : '#e0dcdc'};">${r}</div>`);
});
</script>
</body>
</html>
